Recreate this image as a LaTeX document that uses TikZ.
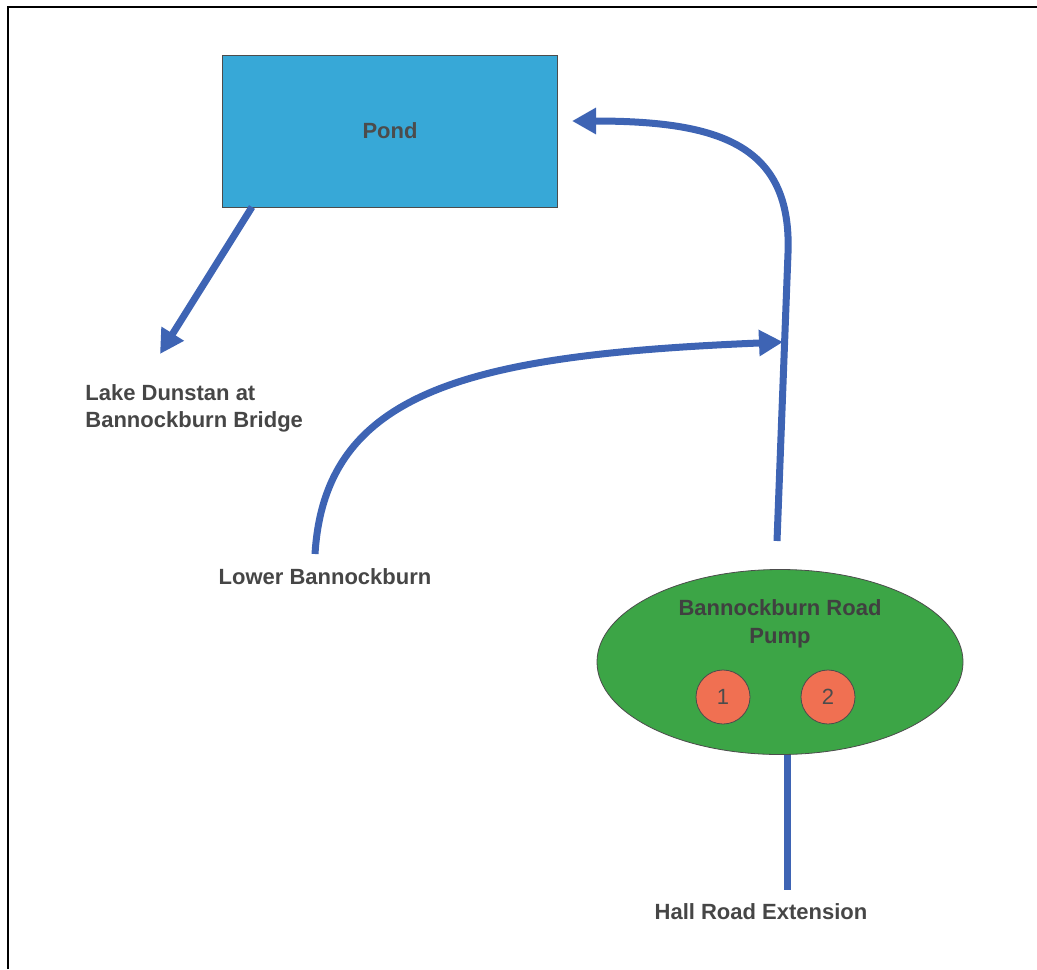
\documentclass[tikz,border=0pt]{standalone}
\usepackage{fontspec}
\setmainfont{Liberation Sans}
\usepackage{xcolor}
\usepackage{tikz}
\usetikzlibrary{positioning,arrows.meta,shapes.geometric}
\definecolor{pondblue}{RGB}{55,168,215}
\definecolor{pumpgreen}{RGB}{60,165,70}
\definecolor{pumpred}{RGB}{240,112,82}
\definecolor{pipeblue}{RGB}{62,100,180}
\definecolor{labelgray}{RGB}{70,70,70}
\tikzset{
pondbox/.style={
draw=black!70,
thin,
minimum width=167.5pt,
minimum height=76pt,
fill=pondblue,
font=\bfseries\fontsize{11}{13.5}\selectfont,
text=black!70
},
pumpbox/.style={
ellipse,
draw=black!70,
thin,
minimum width=183pt,
minimum height=92.5pt,
fill=pumpgreen
},
unit/.style={
circle,
draw=black!70,
thin,
minimum size=27pt,
inner sep=0pt,
fill=pumpred,
font=\fontsize{11}{13.5}\selectfont,
text=black!70
},
place/.style={
align=left,
inner sep=0pt,
font=\bfseries\fontsize{11}{13.5}\selectfont,
text=labelgray
},
pipe/.style={
draw=pipeblue,
line width=3.5pt
},
arrow/.style={
pipe,
-{Triangle[length=12pt,width=12.5pt]}
}
}
\begin{document}
\begin{tikzpicture}[x=0.5pt,y=-0.5pt]
\useasboundingbox (0,0) rectangle (1037,969);
\draw[line width=1pt] (8,969) -- (8,7) -- (1037,7);

\node[pondbox](pond) at (390,131){Pond};
\node[pumpbox](pump) at (780,662){};
\node[place,align=center,text=black!75,font=\bfseries\fontsize{11}{14}\selectfont](pumplabel) at (780,624){Bannockburn Road\\Pump};
\node[unit](u1) at (723,697){1};
\node[unit](u2) at (828,697){2};
\node[place,anchor=north west](lake) at (85,384){Lake Dunstan at\\Bannockburn Bridge};
\node[place](lower) at (325,577){Lower Bannockburn};
\node[place](hall) at (761,912){Hall Road Extension};

\coordinate (pondout) at (252,207);
\coordinate (laketip) at (160,354);
\coordinate (pumpout) at (777,541);
\coordinate (bend) at (788,253);
\coordinate (pondin) at (572,121);
\coordinate (lowerout) at (315,554);
\coordinate (join) at (783,342);
\coordinate (pumpin) at (787,755);
\coordinate (hallin) at (787,890);

\draw[arrow](pondout)--(laketip);
\draw[arrow](pumpout)--(bend) .. controls (792,145) and (720,121) .. (pondin);
\draw[arrow](lowerout) .. controls (325,390) and (470,355) .. (join);
\draw[pipe](pumpin)--(hallin);
\end{tikzpicture}
\end{document}
